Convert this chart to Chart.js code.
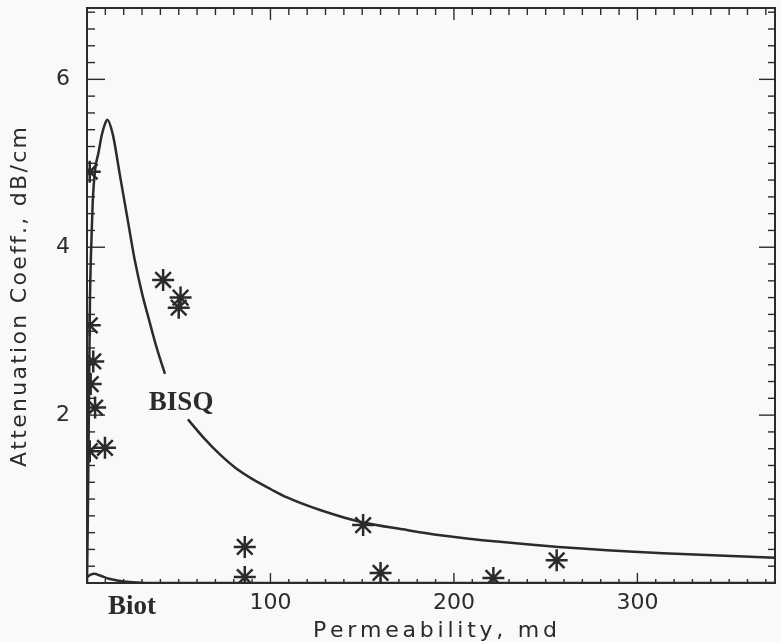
<!DOCTYPE html>
<html>
<head>
<meta charset="utf-8">
<script src="https://cdn.jsdelivr.net/npm/chart.js@4.4.1/dist/chart.umd.min.js"></script>
<style>
  html, body { margin: 0; padding: 0; background: #f9f9f7; }
  #wrap { width: 781px; height: 642px; }
</style>
</head>
<body>
<div id="wrap"><canvas id="chart"></canvas></div>
<script>
// BISQ model curve (permeability md -> attenuation dB/cm), null = gap for the label
const bisqK = [0, 0.3, 0.7, 1.1, 1.6, 2.2, 3.1, 4.4, 6.2, 8.0, 9.8, 11.1, 14, 18, 22, 26, 30, 34, 38, 42.5,
  48, 55, 64, 73, 81, 90, 100, 109, 127, 150.6, 172, 192.6, 225, 257, 314, 375];
const bisqAtt = [0, 0.5, 1.3, 2.2, 3.35, 3.94, 4.53, 4.92, 5.12, 5.33, 5.47, 5.52, 5.35, 4.85, 4.35, 3.85, 3.45, 3.12, 2.8, 2.49,
  null, 1.95, 1.72, 1.52, 1.37, 1.24, 1.12, 1.02, 0.87, 0.72, 0.64, 0.57, 0.49, 0.43, 0.355, 0.3];

// Biot model curve, hugging the axis
const biotK = [0, 2, 4, 7, 12, 18, 25, 40, 375];
const biotAtt = [0.07, 0.1, 0.11, 0.09, 0.05, 0.025, 0.01, 0, 0];

// measured points
const measK = [1.5, 1.5, 3.4, 2, 4.4, 1.5, 9.8, 41.5, 51, 50, 86, 86, 150.5, 160, 221.5, 256];
const measAtt = [4.9, 3.07, 2.64, 2.37, 2.09, 1.57, 1.61, 3.61, 3.4, 3.28, 0.43, 0.07, 0.69, 0.12, 0.06, 0.27];

const xTicks = [100, 200, 300];
const yTicks = [2, 4, 6];
const xMax = 375;
const yMax = 6.85;

const ink = '#2b2b2b';
const pairs = (xs, ys) => xs.map((x, i) => ({ x, y: ys[i] }));

function spacedText(ctx, text, cx, cy, width) {
  const chars = [...text];
  const widths = chars.map(c => ctx.measureText(c).width);
  const natural = widths.reduce((a, b) => a + b, 0);
  const gap = (width - natural) / (chars.length - 1);
  let pos = cx - width / 2;
  chars.forEach((c, i) => {
    ctx.fillText(c, pos, cy);
    pos += widths[i] + gap;
  });
}

const frame = {
  id: 'frame',
  afterDraw(chart) {
    const { ctx, chartArea: a, scales: { x, y } } = chart;
    ctx.save();
    ctx.strokeStyle = ink;
    ctx.lineWidth = 2;
    ctx.strokeRect(a.left, a.top, a.right - a.left, a.bottom - a.top);

    ctx.lineWidth = 1.4;
    const tick = (x1, y1, x2, y2) => {
      ctx.beginPath(); ctx.moveTo(x1, y1); ctx.lineTo(x2, y2); ctx.stroke();
    };
    for (let v = 10; v < xMax; v += 10) {
      const px = x.getPixelForValue(v);
      const major = v % 100 === 0;
      tick(px, a.bottom, px, a.bottom - (major ? 10 : 4));
      tick(px, a.top, px, a.top + (major ? 12 : 7));
    }
    for (let i = 1; i * 0.2 < yMax; i++) {
      const py = y.getPixelForValue(i * 0.2);
      const major = i % 10 === 0;
      tick(a.left, py, a.left + (major ? 18 : 8), py);
      tick(a.right, py, a.right - (major ? 16 : 7), py);
    }

    ctx.fillStyle = ink;
    ctx.textBaseline = 'middle';
    ctx.textAlign = 'left';
    ctx.font = '22px "DejaVu Sans"';
    spacedText(ctx, 'Permeability, md', 435, 631, 244);

    ctx.save();
    ctx.translate(20, 297);
    ctx.rotate(-Math.PI / 2);
    spacedText(ctx, 'Attenuation Coeff., dB/cm', 0, 0, 340);
    ctx.restore();

    ctx.textAlign = 'center';
    ctx.font = 'bold 27px "Liberation Serif"';
    ctx.fillText('BISQ', x.getPixelForValue(51.3), y.getPixelForValue(2.14));
    ctx.fillText('Biot', x.getPixelForValue(24.5), a.bottom + 24);
    ctx.restore();
  }
};

new Chart(document.getElementById('chart'), {
  type: 'scatter',
  data: {
    datasets: [
      {
        label: 'BISQ',
        data: pairs(bisqK, bisqAtt),
        showLine: true,
        spanGaps: false,
        borderColor: ink,
        borderWidth: 2.5,
        pointRadius: 0,
        cubicInterpolationMode: 'monotone',
      },
      {
        label: 'Biot',
        data: pairs(biotK, biotAtt),
        showLine: true,
        borderColor: ink,
        borderWidth: 2.5,
        pointRadius: 0,
        cubicInterpolationMode: 'monotone',
      },
      {
        label: 'Measured',
        data: pairs(measK, measAtt),
        pointStyle: 'star',
        pointRadius: 11,
        borderWidth: 2.5,
        borderColor: ink,
        backgroundColor: ink,
      },
    ],
  },
  options: {
    responsive: true,
    maintainAspectRatio: false,
    animation: false,
    layout: { autoPadding: false, padding: { top: 8, right: 6, left: 0, bottom: 0 } },
    plugins: {
      legend: { display: false },
      tooltip: { enabled: false },
    },
    scales: {
      x: {
        type: 'linear',
        min: 0,
        max: xMax,
        grid: { display: false, drawTicks: false },
        border: { display: false },
        afterFit: s => { s.height = 59; s.paddingLeft = 0; s.paddingRight = 0; },
        afterBuildTicks: s => { s.ticks = xTicks.map(value => ({ value })); },
        ticks: {
          padding: 7,
          color: ink,
          font: { family: 'DejaVu Sans', size: 22 },
        },
      },
      y: {
        type: 'linear',
        min: 0,
        max: yMax,
        grid: { display: false, drawTicks: false },
        border: { display: false },
        afterFit: s => { s.width = 87; s.paddingTop = 0; s.paddingBottom = 0; },
        afterBuildTicks: s => { s.ticks = yTicks.map(value => ({ value })); },
        ticks: {
          padding: 17,
          color: ink,
          font: { family: 'DejaVu Sans', size: 22 },
        },
      },
    },
  },
  plugins: [frame],
});
</script>
</body>
</html>
